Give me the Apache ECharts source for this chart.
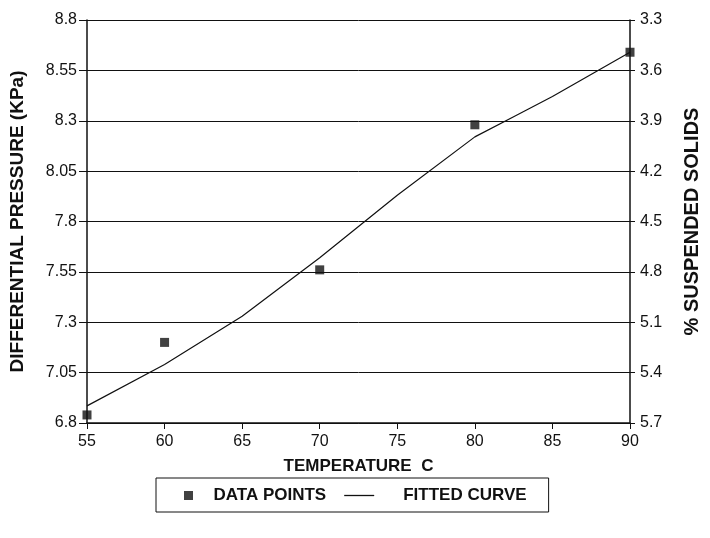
<!DOCTYPE html>
<html>
<head>
<meta charset="utf-8">
<script src="https://cdn.jsdelivr.net/npm/echarts@6/dist/echarts.min.js"></script>
<style>
  html, body { margin: 0; padding: 0; background: #fff; }
  #chart { width: 710px; height: 538px; }
</style>
</head>
<body>
<div id="chart"></div>
<script>
// data
const temps = [55, 60, 70, 80, 90]
const pressure = [6.84, 7.2, 7.56, 8.28, 8.64]
const curveTemps = [55, 60, 65, 70, 75, 80, 82.5, 85, 90]
const curvePressure = [6.885, 7.09, 7.33, 7.62, 7.93, 8.22, 8.32, 8.42, 8.64]
const leftTicks = ['6.8', '7.05', '7.3', '7.55', '7.8', '8.05', '8.3', '8.55', '8.8']
const rightTicks = ['5.7', '5.4', '5.1', '4.8', '4.5', '4.2', '3.9', '3.6', '3.3']
const base = 6.8 // bottom of the pressure axis

const font = 'Liberation Sans, Arial, Helvetica, sans-serif'
const black = '#111'

const chart = echarts.init(document.getElementById('chart'))

const yCommon = {
  type: 'value',
  min: 0,
  max: 2,
  interval: 0.25,
  nameLocation: 'middle',
  nameTextStyle: { fontFamily: font, fontWeight: 'bold', fontSize: 19, color: black },
  axisLine: { show: true, lineStyle: { color: black, width: 1.5 } },
  axisTick: { show: true, length: 8, lineStyle: { color: black } },
  axisLabel: { fontFamily: font, fontSize: 16, color: black, margin: 10 }
}

chart.setOption({
  animation: false,
  backgroundColor: '#fff',
  grid: { left: 86, right: 79, top: 20, bottom: 115 },
  xAxis: {
    type: 'value',
    min: 55,
    max: 90,
    interval: 5,
    name: 'TEMPERATURE  C',
    nameLocation: 'middle',
    nameGap: 35,
    nameTextStyle: { fontFamily: font, fontWeight: 'bold', fontSize: 17, color: black },
    axisLine: { lineStyle: { color: black, width: 1.5 } },
    axisTick: { length: 6, lineStyle: { color: black } },
    axisLabel: { fontFamily: font, fontSize: 16, color: black, margin: 11 },
    splitLine: { show: false }
  },
  yAxis: [
    Object.assign({}, yCommon, {
      name: 'DIFFERENTIAL PRESSURE (KPa)',
      nameGap: 60,
      position: 'left',
      axisLabel: Object.assign({}, yCommon.axisLabel, { formatter: (v, i) => leftTicks[i] }),
      splitLine: { show: true, lineStyle: { color: black, width: 1 } }
    }),
    Object.assign({}, yCommon, {
      name: '% SUSPENDED SOLIDS',
      nameGap: 52,
      nameRotate: 90,
      nameTextStyle: { fontFamily: font, fontWeight: 'bold', fontSize: 20, color: black },
      position: 'right',
      axisTick: { show: true, length: 5, lineStyle: { color: black } },
      axisLabel: Object.assign({}, yCommon.axisLabel, { formatter: (v, i) => rightTicks[i] }),
      splitLine: { show: false }
    })
  ],
  legend: {
    bottom: 26,
    left: 156,
    padding: [9, 22, 8, 28],
    itemGap: 18,
    itemWidth: 30,
    itemHeight: 9,
    borderColor: black,
    borderWidth: 1,
    borderRadius: 0,
    textStyle: { fontFamily: font, fontWeight: 'bold', fontSize: 17, color: black },
    data: [
      {
        name: 'DATA POINTS',
        icon: 'path://M0,0 L10,0 L10,10 L0,10 Z',
        textStyle: { padding: [0, 0, 0, 5] }
      },
      {
        name: 'FITTED CURVE',
        icon: 'path://M0,0 L30,0 L30,1.3 L0,1.3 Z',
        textStyle: { padding: [0, 0, 0, 24] }
      }
    ]
  },
  series: [
    {
      name: 'DATA POINTS',
      type: 'scatter',
      symbol: 'rect',
      symbolSize: 9,
      itemStyle: { color: black },
      data: temps.map((t, i) => [t, +(pressure[i] - base).toFixed(3)]),
      z: 3
    },
    {
      name: 'FITTED CURVE',
      type: 'line',
      symbol: 'none',
      lineStyle: { color: black, width: 1.2 },
      itemStyle: { color: black },
      data: curveTemps.map((t, i) => [t, +(curvePressure[i] - base).toFixed(3)])
    }
  ]
})
</script>
</body>
</html>
